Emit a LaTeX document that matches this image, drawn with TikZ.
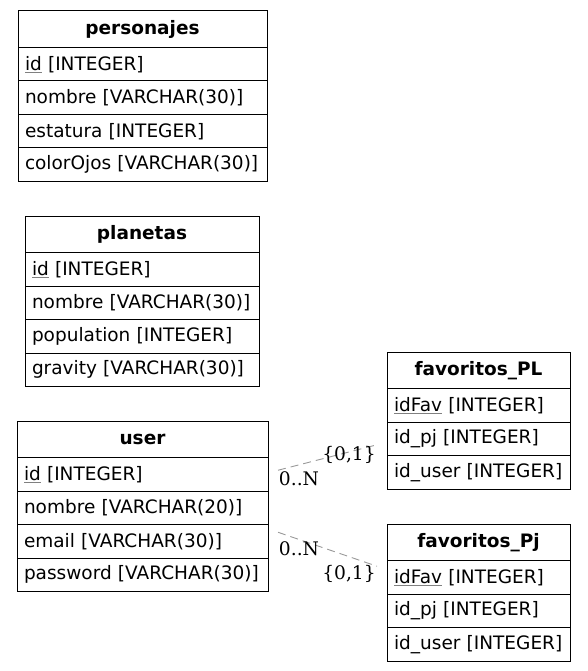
\documentclass[tikz,border=0pt]{standalone}
\usepackage{fontspec}
\setmainfont{DejaVu Sans}
\newfontfamily\lblfont{DejaVu Serif}
\usetikzlibrary{calc}
\newcommand\keyul[1]{{\setbox0\hbox{#1}\rlap{\textcolor{gray}{\rule[-2.5pt]{\wd0}{0.8pt}}}\box0}}
\tikzset{
  x=1pt,y=-1pt,
  every node/.style={font=\fontsize{18.5}{22}\selectfont},
  hdr/.style={draw,line width=1pt,outer sep=0pt,anchor=north west,minimum height=36.5pt,inner sep=0pt,font=\fontsize{18.5}{22}\selectfont\bfseries},
  rowc/.style={draw,line width=1pt,outer sep=0pt,anchor=north west,minimum height=33.5pt,inner xsep=7pt,inner ysep=0pt,align=left},
  edge/.style={draw=gray!80,line width=0.9pt,dash pattern=on 8pt off 5pt},
  card/.style={font=\lblfont\fontsize{18.67}{22}\selectfont,inner sep=0pt}
}
\begin{document}
\begin{tikzpicture}
\useasboundingbox (0,0) rectangle (587,671);
% personajes
\node[hdr,minimum width=249pt] (per) at (18,11) {personajes};
\node[rowc,text width=235pt] (per-1) at (per.south west) {\keyul{id} [INTEGER]};
\node[rowc,text width=235pt] (per-2) at (per-1.south west) {nombre [VARCHAR(30)]};
\node[rowc,text width=235pt] (per-3) at (per-2.south west) {estatura [INTEGER]};
\node[rowc,text width=235pt] (per-4) at (per-3.south west) {colorOjos [VARCHAR(30)]};
% planetas
\node[hdr,minimum width=234pt] (pla) at (25,216) {planetas};
\node[rowc,text width=220pt] (pla-1) at (pla.south west) {\keyul{id} [INTEGER]};
\node[rowc,text width=220pt] (pla-2) at (pla-1.south west) {nombre [VARCHAR(30)]};
\node[rowc,text width=220pt] (pla-3) at (pla-2.south west) {population [INTEGER]};
\node[rowc,text width=220pt] (pla-4) at (pla-3.south west) {gravity [VARCHAR(30)]};
% user
\node[hdr,minimum width=251pt] (usr) at (17,421) {user};
\node[rowc,text width=237pt] (usr-1) at (usr.south west) {\keyul{id} [INTEGER]};
\node[rowc,text width=237pt] (usr-2) at (usr-1.south west) {nombre [VARCHAR(20)]};
\node[rowc,text width=237pt] (usr-3) at (usr-2.south west) {email [VARCHAR(30)]};
\node[rowc,text width=237pt] (usr-4) at (usr-3.south west) {password [VARCHAR(30)]};
% favoritos_PL
\node[hdr,minimum width=183pt] (fpl) at (387,352) {favoritos\_PL};
\node[rowc,text width=169pt] (fpl-1) at (fpl.south west) {\keyul{idFav} [INTEGER]};
\node[rowc,text width=169pt] (fpl-2) at (fpl-1.south west) {id\_pj [INTEGER]};
\node[rowc,text width=169pt] (fpl-3) at (fpl-2.south west) {id\_user [INTEGER]};
% favoritos_Pj
\node[hdr,minimum width=183pt] (fpj) at (387,524) {favoritos\_Pj};
\node[rowc,text width=169pt] (fpj-1) at (fpj.south west) {\keyul{idFav} [INTEGER]};
\node[rowc,text width=169pt] (fpj-2) at (fpj-1.south west) {id\_pj [INTEGER]};
\node[rowc,text width=169pt] (fpj-3) at (fpj-2.south west) {id\_user [INTEGER]};
% edges
\coordinate (e1a) at ($(usr-1.east)+(10,-4)$);
\coordinate (e1b) at ($(fpl-2.west)+(-10,6)$);
\coordinate (e2a) at ($(usr-3.east)+(10,-9)$);
\coordinate (e2b) at ($(fpj-1.west)+(-10,-11)$);
\draw[edge] (e1a) -- (e1b);
\draw[edge] (e2a) -- (e2b);
\node[card] (c1a) at (299,479) {0..N};
\node[card] (c1b) at (349,455) {\{0,1\}};
\node[card] (c2a) at (299,549) {0..N};
\node[card] (c2b) at (349,574) {\{0,1\}};
\end{tikzpicture}
\end{document}
